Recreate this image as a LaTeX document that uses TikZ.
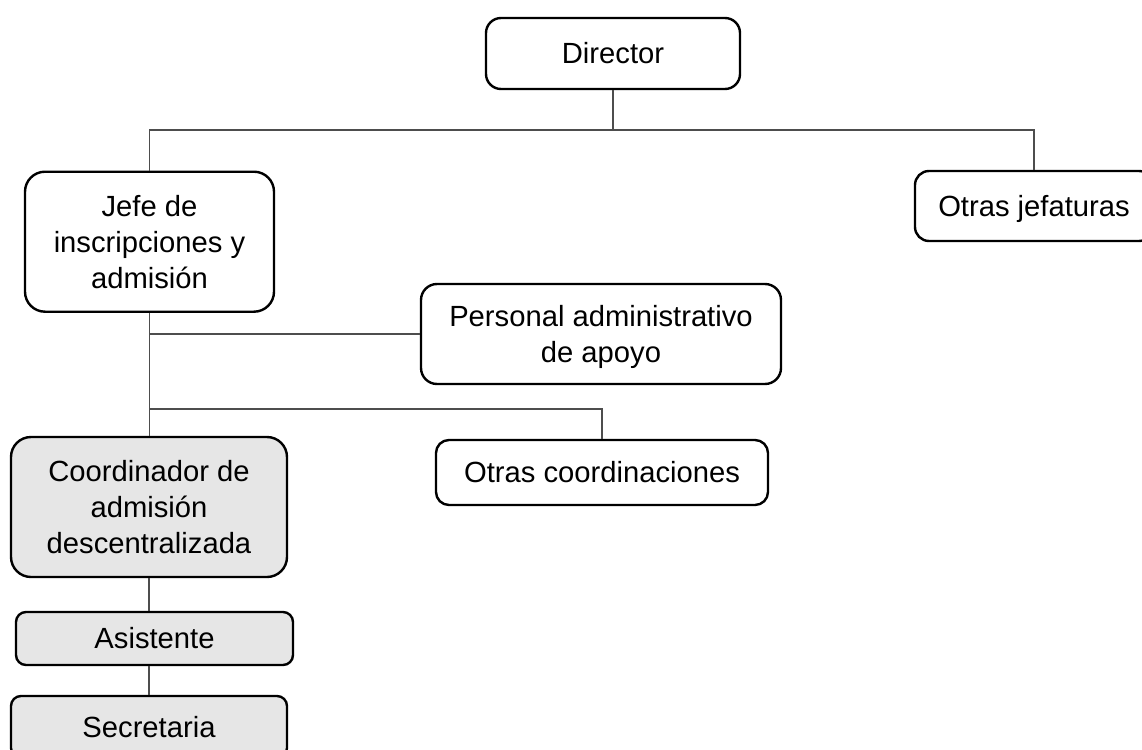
\documentclass[tikz,border=0pt]{standalone}
\usepackage{fontspec}
\setmainfont{Liberation Sans}
\definecolor{boxgray}{HTML}{E6E6E6}
\definecolor{linegray}{HTML}{4D4D4D}
\begin{document}
\begin{tikzpicture}[x=1pt,y=-1pt,
  box/.style={draw=black, line width=2.4pt, rounded corners=#1, align=center,
    inner sep=0pt, font=\fontsize{29.2}{36.2}\selectfont},
  box/.default=14pt,
  graybox/.style={box=#1, fill=boxgray},
  graybox/.default=14pt,
  conn/.style={draw=linegray, line width=1.3pt}]
\useasboundingbox (0,0) rectangle (1142,749);
\node[box=15pt, minimum width=254pt, minimum height=71pt] (dir) at (613,53.5) {Director};
\node[box=20pt, minimum width=249pt, minimum height=140pt, text depth=-10pt] (jefe) at (149.5,241.7) {Jefe de\\inscripciones y\\admisión};
\node[box=14pt, minimum width=238pt, minimum height=70pt, text depth=0pt] (ojef) at (1034,206) {Otras jefaturas};
\node[box=16pt, minimum width=360pt, minimum height=100pt, text depth=-10pt] (pers) at (601,334) {Personal administrativo\\de apoyo};
\node[box=13pt, minimum width=332pt, minimum height=65pt] (ocoord) at (602,472.5) {Otras coordinaciones};
\node[graybox=20pt, minimum width=276pt, minimum height=140pt] (coord) at (149,507) {Coordinador de\\admisión\\descentralizada};
\node[graybox=10pt, minimum width=277pt, minimum height=53pt] (asis) at (154.5,638.5) {Asistente};
\node[graybox=10pt, minimum width=276pt, minimum height=62pt] (sec) at (149,727) {Secretaria};
\coordinate (busA) at (0,130);
\coordinate (busB) at (0,409);
\draw[conn] (dir.south) -- (dir.south |- busA);
\draw[conn] (jefe.north) |- (ojef.north |- busA) -- (ojef.north);
\draw[conn] (jefe.south) -- (jefe.south |- coord.north);
\draw[conn] (jefe.south |- pers.west) -- (pers.west);
\draw[conn] (jefe.south |- busB) -| (ocoord.north);
\draw[conn] (coord.south) -- (coord.south |- asis.north);
\draw[conn] (coord.south |- asis.south) -- (coord.south |- sec.north);
\end{tikzpicture}
\end{document}
